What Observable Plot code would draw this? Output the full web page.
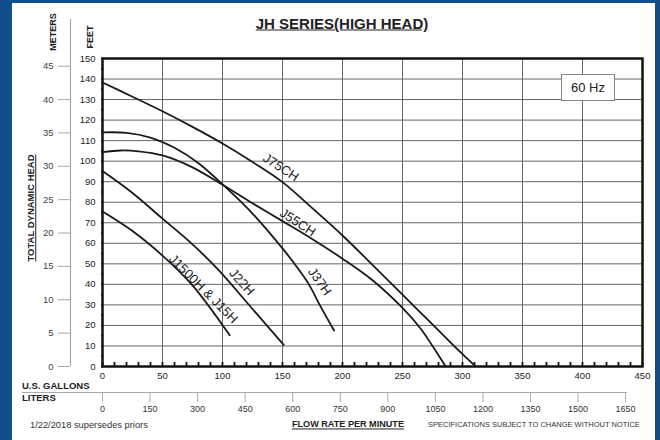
<!DOCTYPE html>
<html><head><meta charset="utf-8">
<script src="https://cdn.jsdelivr.net/npm/d3@7"></script>
<script src="https://cdn.jsdelivr.net/npm/@observablehq/plot@0.6"></script>
<style>
html,body{margin:0;padding:0;}
body{position:relative;width:660px;height:440px;background:#124e8c;overflow:hidden;font-family:"Liberation Sans",Arial,sans-serif;}
#page{position:absolute;left:12px;top:3px;width:643px;height:437px;background:#fff;}
#chart{position:absolute;left:0;top:0;}
.t{position:absolute;white-space:nowrap;color:#222;line-height:1;}
.vc{transform:translateY(-50%);}
.rot{transform:translate(-50%,-50%) rotate(-90deg);font-weight:bold;}
</style></head><body>
<div id="page"></div>
<div id="chart"></div>
<div class="t" style="left:342px;top:23px;transform:translate(-50%,-50%);font-size:15px;font-weight:bold;text-decoration:underline;">JH SERIES(HIGH HEAD)</div>
<div class="t rot" style="left:53px;top:32px;font-size:9px;">METERS</div>
<div class="t rot" style="left:90px;top:37px;font-size:9px;">FEET</div>
<div class="t rot" style="left:31px;top:208px;font-size:9.5px;text-decoration:underline;">TOTAL DYNAMIC HEAD</div>
<div class="t vc" style="left:22px;top:386px;font-size:9.5px;font-weight:bold;">U.S. GALLONS</div>
<div class="t vc" style="left:22px;top:398px;font-size:9.5px;font-weight:bold;">LITERS</div>
<div class="t vc" style="left:30px;top:426px;font-size:9.3px;color:#333;">1/22/2018 supersedes priors</div>
<div class="t vc" style="left:292px;top:425px;font-size:9.1px;font-weight:bold;text-decoration:underline;">FLOW RATE PER MINUTE</div>
<div class="t vc" style="left:428px;top:425px;font-size:7.5px;color:#333;">SPECIFICATIONS SUBJECT TO CHANGE WITHOUT NOTICE</div>
<div class="t" style="left:561px;top:74px;width:52px;height:25px;border:1px solid #888;background:#fff;font-size:13px;display:flex;align-items:center;justify-content:center;">60 Hz</div>
<script>
// ---- data (flow in US gpm, head in feet) ----
const seriesNames = ["J75CH", "J55CH", "J37H", "J22H", "J1500H & J15H"];
const j75chGpm = [0, 25, 50, 75, 100, 125, 150, 175, 200, 225, 250, 275, 300, 311];
const j75chFt  = [138.3, 131.4, 124.3, 116.7, 108.6, 99.6, 89.8, 77, 63.8, 49.5, 35, 20.5, 6, 0];
const j55chGpm = [0, 15, 30, 50, 75, 100, 125, 150, 175, 200, 225, 250, 265, 275, 286];
const j55chFt  = [104.4, 105.2, 104.8, 102.8, 97, 88.5, 79.5, 70.8, 62, 52.5, 42, 28.5, 18.5, 10, 0];
const j37hGpm  = [0, 20, 40, 60, 80, 105, 125, 150, 160, 172, 181, 193];
const j37hFt   = [114, 113.8, 111.5, 106.5, 99, 86, 74.5, 57.5, 50, 40, 30, 17.5];
const j22hGpm  = [0, 25, 50, 75, 97, 125, 151];
const j22hFt   = [95.2, 84.5, 72, 59.5, 46.8, 28, 10.5];
const j15hGpm  = [0, 25, 50, 75, 106];
const j15hFt   = [75.5, 66, 54, 39.5, 15.2];

// curve labels (anchor in gpm / feet, rotation in degrees)
const labelText  = ["J75CH", "J55CH", "J37H", "J22H", "J1500H & J15H"];
const labelGpm   = [148.6, 162.8, 181, 116, 84];
const labelFt    = [96.9, 70.1, 41.4, 41.1, 37.8];
const labelAngle = [33, 33, 55, 48, 45];

// axis ticks
const gpmTicks   = [0, 50, 100, 150, 200, 250, 300, 350, 400, 450];
const gpmMinor   = d3.range(0, 451, 10);
const ftTicks    = [0, 10, 20, 30, 40, 50, 60, 70, 80, 90, 100, 110, 120, 130, 140, 150];
const ftMinor    = d3.range(0, 151, 5);
const meterTicks = [0, 5, 10, 15, 20, 25, 30, 35, 40, 45];
const literTicks = [0, 150, 300, 450, 600, 750, 900, 1050, 1200, 1350, 1500, 1650];
const FT_PER_M = 3.25;     // as drawn on the chart
const L_PER_GAL = 3.785;

const allX = [j75chGpm, j55chGpm, j37hGpm, j22hGpm, j15hGpm];
const allY = [j75chFt, j55chFt, j37hFt, j22hFt, j15hFt];
const curves = seriesNames.flatMap((name, i) => allX[i].map((x, k) => ({name, gpm: x, ft: allY[i][k]})));
const labels = labelText.map((t, i) => ({t, gpm: labelGpm[i], ft: labelFt[i], a: labelAngle[i]}));

const FONT = "'Liberation Sans', Arial, sans-serif";
const chart = Plot.plot({
  width: 660, height: 440,
  marginLeft: 102, marginRight: 18, marginTop: 58, marginBottom: 74,
  x: {domain: [0, 450], axis: null},
  y: {domain: [0, 150], axis: null},
  style: {background: "transparent", fontFamily: FONT, overflow: "visible"},
  marks: [
    Plot.gridX(gpmTicks.slice(1, -1), {stroke: "#666", strokeOpacity: 1, strokeWidth: 1}),
    Plot.gridY(ftTicks.slice(1, -1), {stroke: "#666", strokeOpacity: 1, strokeWidth: 1}),
    // minor ticks
    Plot.axisX(gpmMinor, {anchor: "bottom", tickSize: -4, tickFormat: () => "", strokeWidth: 1.8, color: "#111", label: null}),
    Plot.axisY(ftMinor, {anchor: "left", tickSize: 2, dx: 1, tickFormat: () => "", strokeWidth: 1.5, color: "#111", label: null}),
    // feet axis labels
    Plot.axisY(ftTicks, {anchor: "left", tickSize: 0, tickPadding: 7, fontSize: 9.5, color: "#222", label: null}),
    // gallons axis labels
    Plot.axisX(gpmTicks, {anchor: "bottom", tickSize: 0, tickPadding: 6, fontSize: 9.5, color: "#222", label: null}),
    // meters axis
    Plot.ruleX([0], {dx: -32, insetTop: -39, stroke: "#aaa", strokeWidth: 1.2}),
    Plot.axisY(meterTicks.map(m => m * FT_PER_M), {anchor: "left", dx: -32, tickSize: 12, tickPadding: 5, fontSize: 9.5,
      tickFormat: d => String(Math.round(d / FT_PER_M)), stroke: "#aaa", fill: "#444", label: null}),
    // liters axis
    Plot.ruleY([0], {dy: 26, insetLeft: -80, insetRight: 15, stroke: "#aaa", strokeWidth: 1.2}),
    Plot.axisX(literTicks.map(l => l / L_PER_GAL), {anchor: "bottom", dy: 26, tickSize: 10, tickPadding: 3, fontSize: 9,
      tickFormat: d => String(Math.round(d * L_PER_GAL / 150) * 150), stroke: "#aaa", fill: "#333", label: null}),
    Plot.frame({stroke: "#111", strokeWidth: 2.5}),
    // pump curves
    Plot.line(curves, {x: "gpm", y: "ft", z: "name", curve: "catmull-rom", stroke: "#1a1a1a", strokeWidth: 1.8}),
    Plot.text(labels, {x: "gpm", y: "ft", text: "t", rotate: "a", fontSize: 13, fill: "#222"})
  ]
});
document.getElementById("chart").appendChild(chart);
</script>
</body></html>
